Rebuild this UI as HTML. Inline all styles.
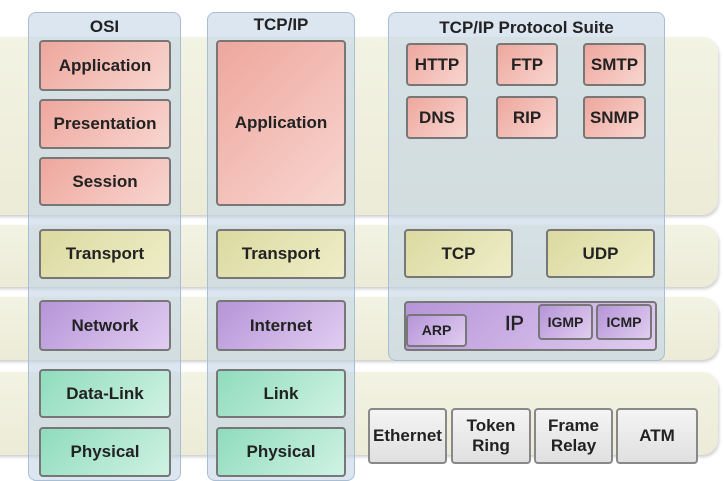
<!DOCTYPE html><html><head><style>
body{margin:0;width:724px;height:481px;background:#fff;position:relative;overflow:hidden;font-family:"Liberation Sans",sans-serif;font-weight:bold;}
div{position:absolute;box-sizing:border-box;}
.band{left:-10px;width:728px;background:linear-gradient(#f3f3e4,#ecebd7);border-radius:0 16px 16px 0;box-shadow:1px 2px 3px #ccc;}
.col{background:rgba(190,210,230,.55);border:1px solid #a8bed4;border-radius:8px;}
.b{display:flex;align-items:center;justify-content:center;text-align:center;border:2px solid #777;border-radius:4px;font-size:17px;color:#222;line-height:1.15;}
.r{background:linear-gradient(135deg,#eea79d,#f8d6d0);}
.y{background:linear-gradient(135deg,#dcdaa0,#eeedc8);}
.p{background:linear-gradient(135deg,#b695d8,#e0cdf0);}
.g{background:linear-gradient(135deg,#8fdcbd,#d0f2e4);}
.w{background:linear-gradient(#f4f4f4,#e0e0e0);border-color:#888;}
.t{font-size:17px;color:#222;text-align:center;}
</style></head><body>
<div class="band" style="top:37px;height:178px"></div>
<div class="band" style="top:225px;height:62px"></div>
<div class="band" style="top:297px;height:63px"></div>
<div class="band" style="top:372px;height:83px"></div>
<div class="col" style="left:28px;top:12px;width:153px;height:469px"></div>
<div class="col" style="left:207px;top:12px;width:148px;height:469px"></div>
<div class="col" style="left:388px;top:12px;width:277px;height:349px"></div>
<div class="t" style="left:28px;top:17px;width:153px">OSI</div>
<div class="t" style="left:207px;top:15px;width:148px">TCP/IP</div>
<div class="t" style="left:388px;top:18px;width:277px">TCP/IP Protocol Suite</div>
<div class="b r" style="left:39px;top:40px;width:132px;height:51px">Application</div>
<div class="b r" style="left:39px;top:99px;width:132px;height:50px">Presentation</div>
<div class="b r" style="left:39px;top:157px;width:132px;height:49px">Session</div>
<div class="b y" style="left:39px;top:229px;width:132px;height:50px">Transport</div>
<div class="b p" style="left:39px;top:300px;width:132px;height:51px">Network</div>
<div class="b g" style="left:39px;top:369px;width:132px;height:49px">Data-Link</div>
<div class="b g" style="left:39px;top:427px;width:132px;height:50px">Physical</div>
<div class="b r" style="left:216px;top:40px;width:130px;height:166px">Application</div>
<div class="b y" style="left:216px;top:229px;width:130px;height:50px">Transport</div>
<div class="b p" style="left:216px;top:300px;width:130px;height:51px">Internet</div>
<div class="b g" style="left:216px;top:369px;width:130px;height:49px">Link</div>
<div class="b g" style="left:216px;top:427px;width:130px;height:50px">Physical</div>
<div class="b r" style="left:406px;top:43px;width:62px;height:43px">HTTP</div>
<div class="b r" style="left:496px;top:43px;width:62px;height:43px">FTP</div>
<div class="b r" style="left:583px;top:43px;width:63px;height:43px">SMTP</div>
<div class="b r" style="left:406px;top:96px;width:62px;height:43px">DNS</div>
<div class="b r" style="left:496px;top:96px;width:62px;height:43px">RIP</div>
<div class="b r" style="left:583px;top:96px;width:63px;height:43px">SNMP</div>
<div class="b y" style="left:404px;top:229px;width:109px;height:49px">TCP</div>
<div class="b y" style="left:546px;top:229px;width:109px;height:49px">UDP</div>
<div class="b p" style="left:404px;top:301px;width:253px;height:50px"></div>
<div class="t" style="left:505px;top:313px;font-size:20px;font-weight:normal;-webkit-text-stroke:.5px #222">IP</div>
<div class="b p" style="left:406px;top:314px;width:61px;height:33px;font-size:14px">ARP</div>
<div class="b p" style="left:538px;top:304px;width:55px;height:36px;font-size:14px">IGMP</div>
<div class="b p" style="left:596px;top:304px;width:56px;height:36px;font-size:14px">ICMP</div>
<div class="b w" style="left:368px;top:408px;width:79px;height:56px">Ethernet</div>
<div class="b w" style="left:451px;top:408px;width:80px;height:56px">Token<br>Ring</div>
<div class="b w" style="left:534px;top:408px;width:79px;height:56px">Frame<br>Relay</div>
<div class="b w" style="left:616px;top:408px;width:82px;height:56px">ATM</div>
</body></html>
